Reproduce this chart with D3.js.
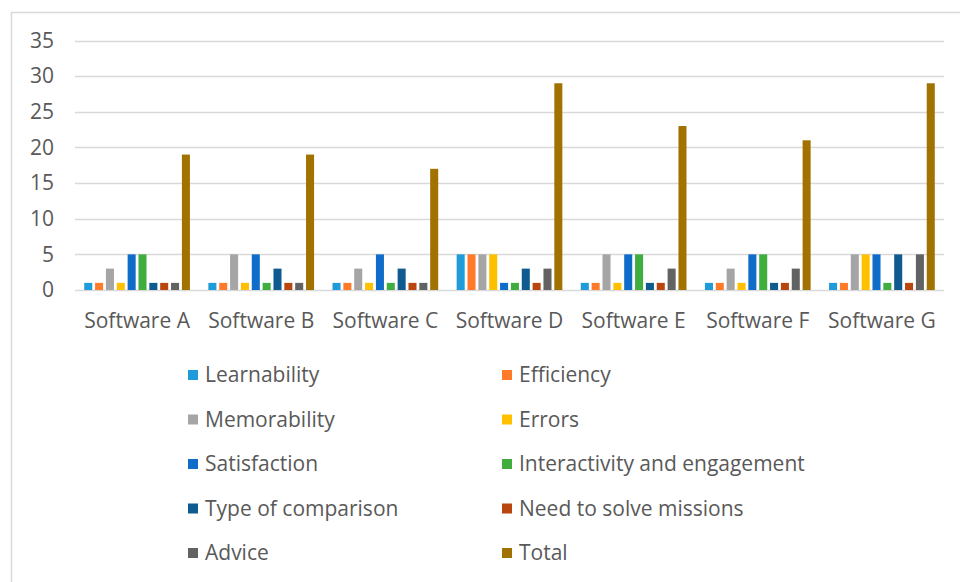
<!DOCTYPE html>
<html>
<head>
<meta charset="utf-8">
<script src="https://cdn.jsdelivr.net/npm/d3@7"></script>
<style>
  html, body { margin: 0; padding: 0; background: #fff; }
  svg { display: block; }
  text { font-family: "Open Sans", "Noto Sans", sans-serif; fill: #595959; }
</style>
</head>
<body>
<svg id="chart" width="960" height="582"></svg>
<script>
const categories = ["Software A", "Software B", "Software C", "Software D", "Software E", "Software F", "Software G"];
const seriesNames = ["Learnability", "Efficiency", "Memorability", "Errors", "Satisfaction",
  "Interactivity and engagement", "Type of comparison", "Need to solve missions", "Advice", "Total"];
const learnability = [1, 1, 1, 5, 1, 1, 1];
const efficiency = [1, 1, 1, 5, 1, 1, 1];
const memorability = [3, 5, 3, 5, 5, 3, 5];
const errors = [1, 1, 1, 5, 1, 1, 5];
const satisfaction = [5, 5, 5, 1, 5, 5, 5];
const interactivity = [5, 1, 1, 1, 5, 5, 1];
const typeOfComparison = [1, 3, 3, 3, 1, 1, 5];
const needToSolveMissions = [1, 1, 1, 1, 1, 1, 1];
const advice = [1, 1, 1, 3, 3, 3, 5];
const total = [19, 19, 17, 29, 23, 21, 29];
const yTicks = [0, 5, 10, 15, 20, 25, 30, 35];
const colors = ["#1f9bd9", "#ff7b2a", "#a5a5a5", "#ffc000", "#0f6cc8", "#3fae3f",
  "#0f5a8f", "#b8460e", "#626262", "#a27200"];

const seriesValues = [learnability, efficiency, memorability, errors, satisfaction,
  interactivity, typeOfComparison, needToSolveMissions, advice, total];

const svg = d3.select("#chart");

// outer chart border
svg.append("rect")
  .attr("x", 11.5).attr("y", 12.5)
  .attr("width", 1000).attr("height", 700)
  .attr("fill", "none").attr("stroke", "#d9d9d9").attr("stroke-width", 1.5);

const plotLeft = 75, plotRight = 944, plotTop = 40.5, plotBottom = 290;

const x = d3.scaleBand().domain(categories).range([plotLeft, plotRight]).padding(0);
const x1 = d3.scaleBand().domain(seriesNames).range([0, x.bandwidth()])
  .paddingInner(0.26).paddingOuter(0.85);
const y = d3.scaleLinear().domain([0, 35]).range([plotBottom, plotTop]);

// gridlines
svg.append("g").selectAll("line").data(yTicks).join("line")
  .attr("x1", plotLeft).attr("x2", plotRight)
  .attr("y1", d => Math.round(y(d)) + 0.5).attr("y2", d => Math.round(y(d)) + 0.5)
  .attr("stroke", "#d9d9d9").attr("stroke-width", 1.3);

// y tick labels
svg.append("g").selectAll("text").data(yTicks).join("text")
  .attr("x", 54).attr("y", d => y(d))
  .attr("dy", "0.35em")
  .attr("text-anchor", "end")
  .attr("font-size", 21)
  .text(d => d);

// bars
const groups = svg.append("g").selectAll("g").data(categories).join("g")
  .attr("transform", c => `translate(${x(c)},0)`);
groups.selectAll("rect").data((c, ci) => seriesNames.map((s, si) => ({ s, si, v: seriesValues[si][ci] })))
  .join("rect")
  .attr("x", d => x1(d.s))
  .attr("width", x1.bandwidth())
  .attr("y", d => y(d.v))
  .attr("height", d => y(0) - y(d.v))
  .attr("fill", d => colors[d.si]);

// category labels
svg.append("g").selectAll("text").data(categories).join("text")
  .attr("x", c => x(c) + x.bandwidth() / 2)
  .attr("y", 321)
  .attr("dy", "0.35em")
  .attr("text-anchor", "middle")
  .attr("font-size", 21)
  .text(c => c);

// legend (two columns)
const legendColX = [188, 502];
const legendRowY = [375, 419.5, 464, 508.5, 553];
const legend = svg.append("g").selectAll("g").data(seriesNames).join("g")
  .attr("transform", (d, i) => `translate(${legendColX[i % 2]},${legendRowY[Math.floor(i / 2)]})`);
legend.append("rect")
  .attr("x", 0).attr("y", -5).attr("width", 10).attr("height", 10)
  .attr("fill", (d, i) => colors[i]);
legend.append("text")
  .attr("x", 17).attr("y", 0).attr("dy", "0.35em")
  .attr("font-size", 21)
  .text(d => d);
</script>
</body>
</html>
